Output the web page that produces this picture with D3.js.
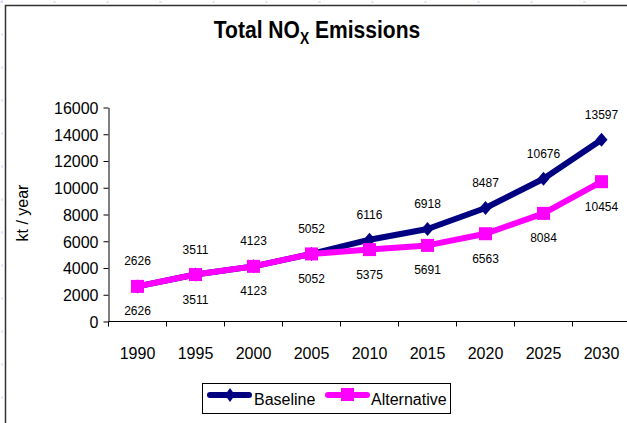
<!DOCTYPE html>
<html>
<head>
<meta charset="utf-8">
<script src="https://cdn.jsdelivr.net/npm/d3@7"></script>
<style>
  body { margin: 0; background: #fff; }
  svg { display: block; font-family: "Liberation Sans", Arial, sans-serif; }
</style>
</head>
<body>
<div id="chart"></div>
<script>
const years = ['1990', '1995', '2000', '2005', '2010', '2015', '2020', '2025', '2030'];
const baseline = [2626, 3511, 4123, 5052, 6116, 6918, 8487, 10676, 13597];
const alternative = [2626, 3511, 4123, 5052, 5375, 5691, 6563, 8084, 10454];
const yTicks = [0, 2000, 4000, 6000, 8000, 10000, 12000, 14000, 16000];

const W = 627, H = 423;
const svg = d3.select('#chart').append('svg')
  .attr('width', W)
  .attr('height', H);

// faint dashed page guides behind the chart frame
svg.append('line').attr('x1', 2).attr('x2', 2).attr('y1', 0).attr('y2', H)
  .attr('stroke', '#c8d4f0').attr('stroke-dasharray', '3,30');
svg.append('line').attr('x1', 0).attr('x2', W).attr('y1', 2).attr('y2', 2)
  .attr('stroke', '#c8d4f0').attr('stroke-dasharray', '3,50');

// chart frame (right and bottom run off the picture)
svg.append('rect')
  .attr('x', 5.5).attr('y', 5.5)
  .attr('width', W + 10).attr('height', H + 10)
  .attr('fill', '#fff')
  .attr('stroke', '#333')
  .attr('stroke-width', 1.5);

// title, a bit condensed like the original
const title = svg.append('text')
  .attr('transform', 'translate(317,38) scale(0.86,1)')
  .attr('text-anchor', 'middle')
  .attr('font-size', 24.5)
  .attr('font-weight', 'bold');
title.append('tspan').text('Total NO');
title.append('tspan').attr('font-size', 16).attr('dy', 6).text('X');
title.append('tspan').attr('dy', -6).text(' Emissions');

const x = d3.scaleBand().domain(years).range([108.5, 630.5]);
const y = d3.scaleLinear().domain([0, 16000]).range([321.5, 107.5]);

// y axis
const yAxis = svg.append('g')
  .attr('transform', 'translate(108.5,0)')
  .call(d3.axisLeft(y).tickValues(yTicks).tickFormat(d3.format('d'))
    .tickSize(5).tickSizeOuter(0).tickPadding(5));
yAxis.selectAll('text').attr('font-size', 16).attr('fill', '#000').attr('dy', '0.36em');
yAxis.selectAll('line, path').attr('stroke', '#000');
yAxis.attr('font-family', null);

// x axis with ticks between categories
const xAxis = svg.append('g')
  .attr('transform', 'translate(0,321.5)');
xAxis.append('line')
  .attr('x1', 108.5).attr('x2', W)
  .attr('stroke', '#000');
xAxis.selectAll('.tick')
  .data(years)
  .join('line')
  .attr('x1', d => x(d)).attr('x2', d => x(d))
  .attr('y1', 0).attr('y2', 5)
  .attr('stroke', '#000');
xAxis.selectAll('.lbl')
  .data(years)
  .join('text')
  .attr('x', d => x(d) + x.bandwidth() / 2)
  .attr('y', 37)
  .attr('text-anchor', 'middle')
  .attr('font-size', 16)
  .text(d => d);

// y axis title
svg.append('text')
  .attr('transform', 'translate(28,213) rotate(-90)')
  .attr('text-anchor', 'middle')
  .attr('font-size', 16)
  .text('kt / year');

const cx = (d, i) => x(years[i]) + x.bandwidth() / 2;
const line = d3.line().x(cx).y(d => y(d));

// baseline series
svg.append('path')
  .datum(baseline)
  .attr('d', line)
  .attr('fill', 'none')
  .attr('stroke', '#000080')
  .attr('stroke-width', 6)
  .attr('stroke-linejoin', 'round');
svg.selectAll('.bmark')
  .data(baseline)
  .join('path')
  .attr('d', 'M0,-7L6,0L0,7L-6,0Z')
  .attr('transform', (d, i) => `translate(${cx(d, i)},${y(d)})`)
  .attr('fill', '#000080');

// alternative series
svg.append('path')
  .datum(alternative)
  .attr('d', line)
  .attr('fill', 'none')
  .attr('stroke', '#ff00ff')
  .attr('stroke-width', 6)
  .attr('stroke-linejoin', 'round');
svg.selectAll('.amark')
  .data(alternative)
  .join('rect')
  .attr('x', (d, i) => cx(d, i) - 6.5)
  .attr('y', d => y(d) - 6.5)
  .attr('width', 13).attr('height', 13)
  .attr('fill', '#ff00ff');

// data labels
svg.selectAll('.blabel')
  .data(baseline)
  .join('text')
  .attr('x', cx)
  .attr('y', d => y(d) - 21)
  .attr('text-anchor', 'middle')
  .attr('font-size', 12)
  .text(d => d);
svg.selectAll('.alabel')
  .data(alternative)
  .join('text')
  .attr('x', cx)
  .attr('y', d => y(d) + 29)
  .attr('text-anchor', 'middle')
  .attr('font-size', 12)
  .text(d => d);

// legend
const lg = svg.append('g');
lg.append('rect')
  .attr('x', 202.5).attr('y', 383.5)
  .attr('width', 248).attr('height', 30)
  .attr('fill', '#fff').attr('stroke', '#000');
lg.append('line')
  .attr('x1', 210).attr('x2', 249).attr('y1', 395).attr('y2', 395)
  .attr('stroke', '#000080').attr('stroke-width', 6).attr('stroke-linecap', 'round');
lg.append('path')
  .attr('d', 'M0,-7L5,0L0,7L-5,0Z')
  .attr('transform', 'translate(230,395)')
  .attr('fill', '#000080');
lg.append('text')
  .attr('x', 254).attr('y', 405)
  .attr('font-size', 16)
  .text('Baseline');
lg.append('line')
  .attr('x1', 328).attr('x2', 367).attr('y1', 395).attr('y2', 395)
  .attr('stroke', '#ff00ff').attr('stroke-width', 6).attr('stroke-linecap', 'round');
lg.append('rect')
  .attr('x', 341).attr('y', 388).attr('width', 13).attr('height', 13)
  .attr('fill', '#ff00ff');
lg.append('text')
  .attr('x', 371).attr('y', 405)
  .attr('font-size', 16)
  .text('Alternative');
</script>
</body>
</html>
